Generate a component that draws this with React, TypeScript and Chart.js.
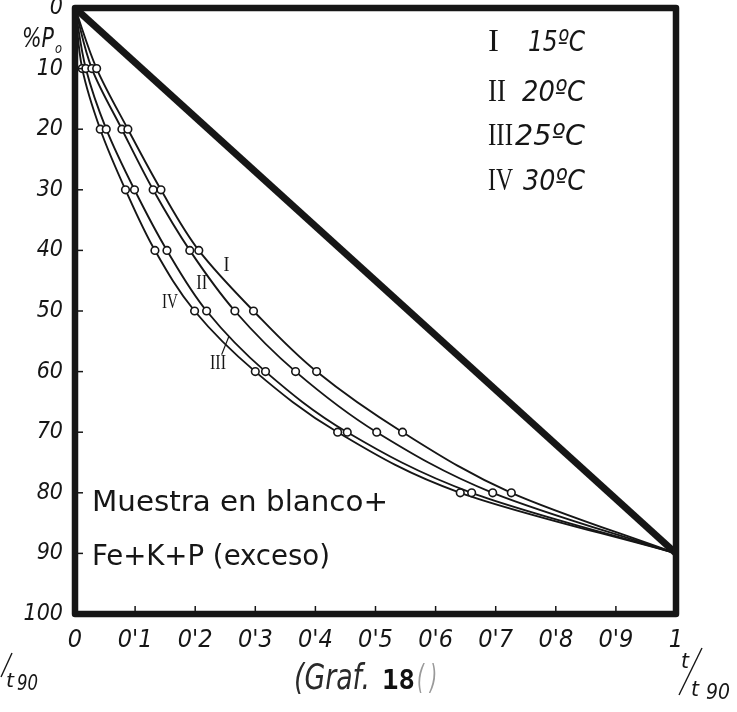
import React, { useEffect, useRef } from "react";
import { Chart, registerables } from "chart.js";

Chart.register(...registerables);

// ---- data ----
const pctLevels = [0, 10, 20, 30, 40, 50, 60, 70, 80, 90];
const tCurveI = [0, 0.036, 0.088, 0.143, 0.206, 0.297, 0.402, 0.545, 0.726, 1];
const tCurveII = [0, 0.028, 0.078, 0.13, 0.191, 0.266, 0.367, 0.502, 0.695, 1];
const tCurveIII = [0, 0.018, 0.052, 0.099, 0.153, 0.219, 0.317, 0.453, 0.66, 1];
const tCurveIV = [0, 0.012, 0.042, 0.084, 0.133, 0.199, 0.3, 0.437, 0.641, 1];
const blankT = [0, 1];
const blankPct = [0, 90];

const curveNames = ["I", "II", "III", "IV"];
const legendTemps = ["15ºC", "20ºC", "25ºC", "30ºC"];
const xTickLabels = ["0", "0'1", "0'2", "0'3", "0'4", "0'5", "0'6", "0'7", "0'8", "0'9", "1"];
const yTickLabels = ["0", "10", "20", "30", "40", "50", "60", "70", "80", "90", "100"];

// curve-name annotation anchors (t, %P0)
const nameAnchorT = [0.252, 0.211, 0.238, 0.158];
const nameAnchorP = [42.5, 45.5, 58.7, 48.6];

const INK = "#161616";
const SANS = '"DejaVu Sans Condensed", "Liberation Sans Narrow", "DejaVu Sans", sans-serif';
const SERIF = '"Liberation Serif", "DejaVu Serif", serif';

function toPoints(ts: number[], ps: number[]) {
  return ts.map((t, i) => ({ x: t, y: ps[i] }));
}

function fitText(ctx: CanvasRenderingContext2D, text: string, x: number, y: number, w: number, font: string) {
  ctx.font = font;
  const m = ctx.measureText(text).width || 1;
  ctx.save();
  ctx.translate(x, y);
  ctx.scale(w / m, 1);
  ctx.textAlign = "left";
  ctx.fillText(text, 0, 0);
  ctx.restore();
}

const decorPlugin = {
  id: "decor",
  afterDatasetsDraw(chart: any) {
    const { ctx, chartArea } = chart;
    const xs = chart.scales.x;
    const ys = chart.scales.y;
    ctx.save();
    ctx.strokeStyle = INK;
    // small inner tick marks
    ctx.lineWidth = 1.5;
    for (let i = 1; i < 10; i++) {
      const px = xs.getPixelForValue(i / 10);
      ctx.beginPath();
      ctx.moveTo(px, chartArea.bottom);
      ctx.lineTo(px, chartArea.bottom - 8);
      ctx.stroke();
      const py = ys.getPixelForValue(i * 10);
      ctx.beginPath();
      ctx.moveTo(chartArea.left, py);
      ctx.lineTo(chartArea.left + 8, py);
      ctx.stroke();
    }
    // thick frame
    ctx.lineWidth = 6.5;
    ctx.lineJoin = "round";
    ctx.strokeRect(chartArea.left, chartArea.top, chartArea.right - chartArea.left, chartArea.bottom - chartArea.top);
    ctx.restore();
  },
  afterDraw(chart: any) {
    const { ctx } = chart;
    const xs = chart.scales.x;
    const ys = chart.scales.y;
    ctx.save();
    ctx.fillStyle = INK;
    ctx.strokeStyle = INK;
    ctx.textBaseline = "middle";

    // curve names on the curves
    const nameW = [6, 11, 16, 16];
    curveNames.forEach((n, i) => {
      const px = xs.getPixelForValue(nameAnchorT[i]);
      const py = ys.getPixelForValue(nameAnchorP[i]);
      fitText(ctx, n, px - nameW[i] / 2, py, nameW[i], `21px ${SERIF}`);
    });
    // leader line for III
    ctx.lineWidth = 1.2;
    ctx.beginPath();
    ctx.moveTo(xs.getPixelForValue(0.244), ys.getPixelForValue(57.2));
    ctx.lineTo(xs.getPixelForValue(0.256), ys.getPixelForValue(54.2));
    ctx.stroke();

    // legend block (top right)
    const rowY = [43, 93, 137, 182];
    const numW = [11, 18, 25, 25];
    const tempX = [528, 522, 515, 523];
    for (let i = 0; i < 4; i++) {
      fitText(ctx, curveNames[i], 488, rowY[i], numW[i], `32px ${SERIF}`);
      fitText(ctx, legendTemps[i], tempX[i], rowY[i], 585 - tempX[i], `italic 29px ${SANS}`);
    }

    // sample description
    fitText(ctx, "Muestra en blanco+", 92, 503, 296, `29px ${SANS}`);
    fitText(ctx, "Fe+K+P (exceso)", 92, 557, 238, `29px ${SANS}`);

    // y axis title %P0
    fitText(ctx, "%P", 22, 40, 32, `italic 27px ${SANS}`);
    fitText(ctx, "o", 55, 49, 7, `italic 14px ${SANS}`);

    // t / t90 right
    fitText(ctx, "t", 681, 662, 8, `italic 22px ${SANS}`);
    ctx.lineWidth = 1.4;
    ctx.beginPath();
    ctx.moveTo(702, 648);
    ctx.lineTo(679, 695);
    ctx.stroke();
    fitText(ctx, "t", 691, 690, 8, `italic 22px ${SANS}`);
    fitText(ctx, "90", 706, 693, 24, `italic 22px ${SANS}`);

    // t / t90 left (cut by the page edge)
    ctx.beginPath();
    ctx.moveTo(12, 653);
    ctx.lineTo(1, 677);
    ctx.stroke();
    fitText(ctx, "t", 6, 682, 8, `italic 20px ${SANS}`);
    fitText(ctx, "90", 17, 685, 21, `italic 21px ${SANS}`);

    // (Graf. 18)
    ctx.fillStyle = "#2a2a2a";
    fitText(ctx, "(Graf.", 294, 680, 76, `italic 36px ${SANS}`);
    ctx.fillStyle = "#111";
    fitText(ctx, "18", 382, 682, 33, `bold 26px "DejaVu Sans Mono", monospace`);
    ctx.fillStyle = "#9a9a9a";
    fitText(ctx, "( )", 417, 680, 20, `italic 34px ${SANS}`);
    ctx.restore();
  },
};

export default function App() {
  const ref = useRef<HTMLCanvasElement | null>(null);

  useEffect(() => {
    if (!ref.current) return;
    const curveStyle = (ts: number[]) => ({
      data: toPoints(ts, pctLevels),
      borderColor: INK,
      borderWidth: 1.9,
      cubicInterpolationMode: "monotone" as const,
      indexAxis: "y" as const,
      pointRadius: (c: any) => (c.dataIndex === 0 || c.dataIndex === ts.length - 1 ? 0 : 3.8),
      pointBackgroundColor: "#ffffff",
      pointBorderColor: INK,
      pointBorderWidth: 1.6,
      fill: false,
    });

    const chart = new Chart(ref.current, {
      type: "line",
      data: {
        datasets: [
          {
            label: "blank",
            data: toPoints(blankT, blankPct),
            borderColor: INK,
            borderWidth: 7,
            pointRadius: 0,
            fill: false,
          },
          { label: curveNames[0], ...curveStyle(tCurveI) },
          { label: curveNames[1], ...curveStyle(tCurveII) },
          { label: curveNames[2], ...curveStyle(tCurveIII) },
          { label: curveNames[3], ...curveStyle(tCurveIV) },
        ] as any,
      },
      options: {
        animation: false,
        responsive: false,
        parsing: false as any,
        layout: { padding: { top: 8, right: 61, left: 0, bottom: 0 } },
        plugins: { legend: { display: false }, tooltip: { enabled: false } },
        scales: {
          x: {
            type: "linear",
            min: 0,
            max: 1,
            grid: { display: false, drawTicks: false },
            border: { display: false },
            ticks: {
              stepSize: 0.1,
              autoSkip: false,
              maxRotation: 0,
              padding: 11,
              color: INK,
              font: { family: SANS, size: 25, style: "italic" },
              callback: (v: any) => xTickLabels[Math.round(Number(v) * 10)] ?? "",
            },
            afterFit: (s: any) => {
              s.height = 98;
              s.paddingLeft = 0;
              s.paddingRight = 0;
            },
          },
          y: {
            type: "linear",
            reverse: true,
            min: 0,
            max: 100,
            grid: { display: false, drawTicks: false },
            border: { display: false },
            ticks: {
              stepSize: 10,
              autoSkip: false,
              padding: 12,
              color: INK,
              font: { family: SANS, size: 23, style: "italic" },
              callback: (v: any) => yTickLabels[Math.round(Number(v) / 10)] ?? "",
            },
            afterFit: (s: any) => {
              s.width = 75;
              s.paddingTop = 0;
              s.paddingBottom = 0;
            },
          },
        },
      } as any,
      plugins: [decorPlugin],
    });
    return () => chart.destroy();
  }, []);

  return (
    <div style={{ position: "fixed", left: 0, top: 0, width: 737, height: 712, background: "#fff" }}>
      <canvas ref={ref} width={737} height={712} />
    </div>
  );
}
